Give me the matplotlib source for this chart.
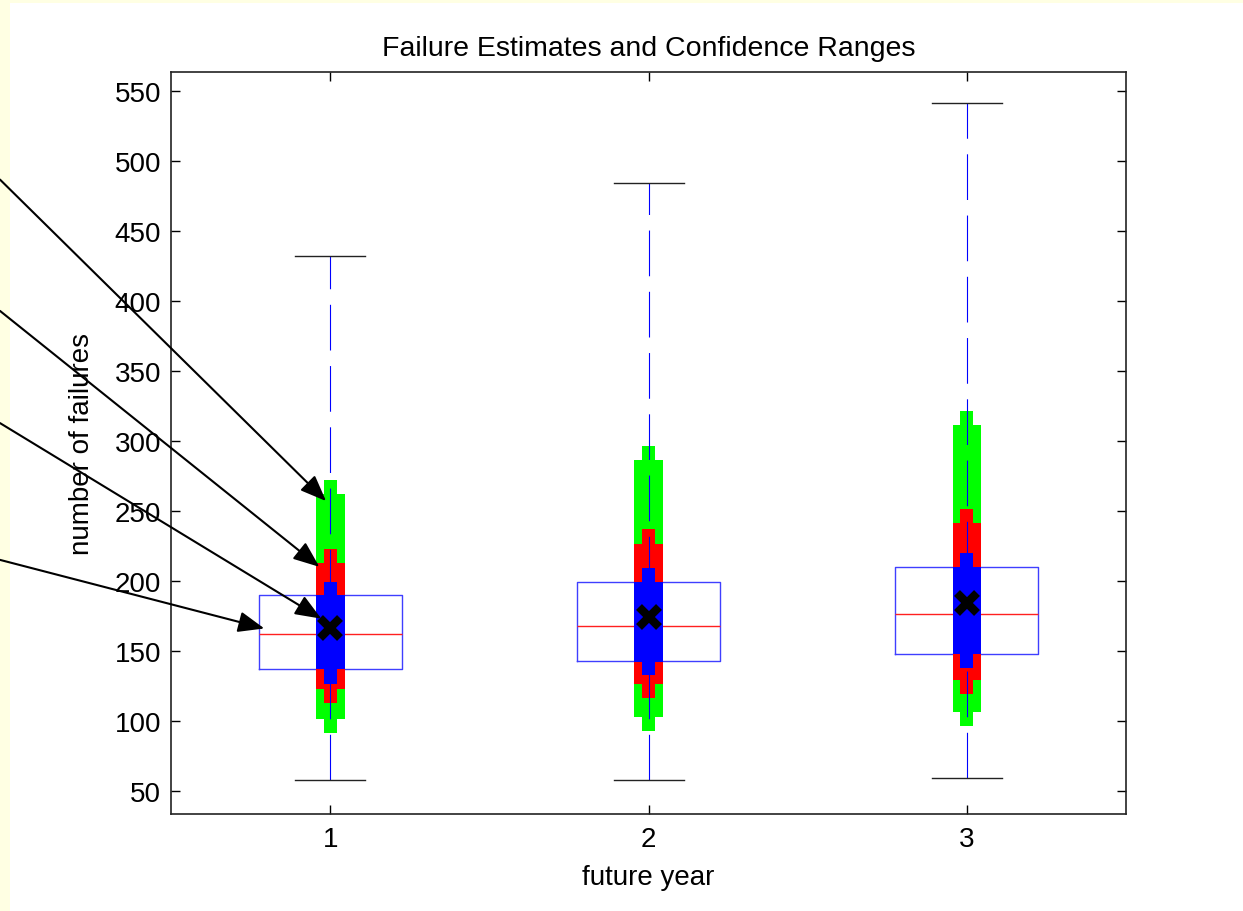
# Failure estimates with confidence ranges (boxplot + nested CI bars)

import numpy as np
import matplotlib.pyplot as plt
from matplotlib.patches import Rectangle

plt.rcParams['font.family'] = ['Liberation Sans', 'DejaVu Sans']
plt.rcParams['lines.scale_dashes'] = False

# boxplot statistics per future year
years = [1, 2, 3]
medians = [162, 168, 176]
q1 = [137, 143, 148]
q3 = [190, 199, 210]
whis_lo = [58, 58, 59]
whis_hi = [432, 484, 541]
estimates = [166, 174, 184]

# confidence ranges: "narrow" part reaches further, "wide" part is shorter
green_narrow_lo = [91, 93, 96]
green_narrow_hi = [272, 296, 321]
green_wide_lo = [101, 103, 106]
green_wide_hi = [262, 286, 311]
red_narrow_lo = [113, 116, 119]
red_narrow_hi = [223, 237, 251]
red_wide_lo = [123, 126, 129]
red_wide_hi = [213, 226, 241]
blue_narrow_lo = [126, 133, 138]
blue_narrow_hi = [199, 209, 220]
blue_wide_lo = [137, 142, 148]
blue_wide_hi = [190, 199, 210]

# arrow annotations (targets in data units, start height as figure fraction)
arrow_x = [0.987, 0.966, 0.972, 0.793]
arrow_y = [257, 210, 173, 166]
arrow_start = [0.802, 0.658, 0.535, 0.385]

fig = plt.figure(figsize=(12.43, 9.12), dpi=100, facecolor='#FFFFE3')
fig.patches.append(Rectangle((0.008, 0), 0.992, 0.9956, transform=fig.transFigure,
                             facecolor='white', edgecolor='none', zorder=-10))
ax = fig.add_axes([0.1376, 0.1064, 0.7683, 0.8136])
ax.set_facecolor('white')

stats = []
for i in range(len(years)):
    stats.append(dict(med=medians[i], q1=q1[i], q3=q3[i],
                      whislo=whis_lo[i], whishi=whis_hi[i], fliers=[]))

bp = ax.bxp(stats, positions=years, widths=0.45, capwidths=0.22, showfliers=False,
            boxprops=dict(color='#3f3fff', lw=1.0, zorder=1),
            medianprops=dict(color='#ff2020', lw=1.0, zorder=1),
            whiskerprops=dict(color='blue', lw=0.8, linestyle=(0, (32.9, 11.2)), zorder=4),
            capprops=dict(color='#222222', lw=1.0, zorder=4))

# lower whiskers: draw dash pattern starting at the cap
for k in range(0, len(bp['whiskers']), 2):
    w = bp['whiskers'][k]
    xs, ys = w.get_data()
    w.set_data(list(xs)[::-1], list(ys)[::-1])

wide = 0.09
narrow = 0.041
x = np.array(years)
for lo_w, hi_w, lo_n, hi_n, col in [
        (green_wide_lo, green_wide_hi, green_narrow_lo, green_narrow_hi, '#00ff00'),
        (red_wide_lo, red_wide_hi, red_narrow_lo, red_narrow_hi, '#ff0000'),
        (blue_wide_lo, blue_wide_hi, blue_narrow_lo, blue_narrow_hi, '#0000ff')]:
    ax.bar(x, np.array(hi_w) - np.array(lo_w), bottom=lo_w, width=wide,
           color=col, linewidth=0, zorder=2)
    ax.bar(x, np.array(hi_n) - np.array(lo_n), bottom=lo_n, width=narrow,
           color=col, linewidth=0, zorder=2)

ax.plot(years, estimates, linestyle='none', marker='x', color='black',
        markersize=14, markeredgewidth=6, zorder=5)

ax.set_xlim(0.5, 3.5)
ax.set_ylim(33.5, 563.5)
ax.set_xticks(years)
ax.set_xticklabels(['1', '2', '3'])
ax.set_yticks(np.arange(50, 551, 50))
ax.tick_params(direction='in', length=6.5, width=1, labelsize=20,
               top=True, right=True, pad=7)
ax.tick_params(axis='x', pad=9)
for s in ax.spines.values():
    s.set_linewidth(1.2)
    s.set_color('#222222')

ax.set_title('Failure Estimates and Confidence Ranges', fontsize=20.5, pad=12)
ax.set_xlabel('future year', fontsize=20, labelpad=8)
ax.set_ylabel('number of failures', fontsize=20, labelpad=14)

for tx, ty, sy in zip(arrow_x, arrow_y, arrow_start):
    ax.annotate('', xy=(tx, ty), xycoords='data',
                xytext=(0.0, sy), textcoords='figure fraction',
                arrowprops=dict(arrowstyle='-|>,head_length=1.0,head_width=0.4',
                                mutation_scale=16, color='black', lw=1.5,
                                shrinkA=0, shrinkB=0),
                annotation_clip=False, zorder=6)

fig.savefig('out.png', dpi=100, facecolor=fig.get_facecolor())
